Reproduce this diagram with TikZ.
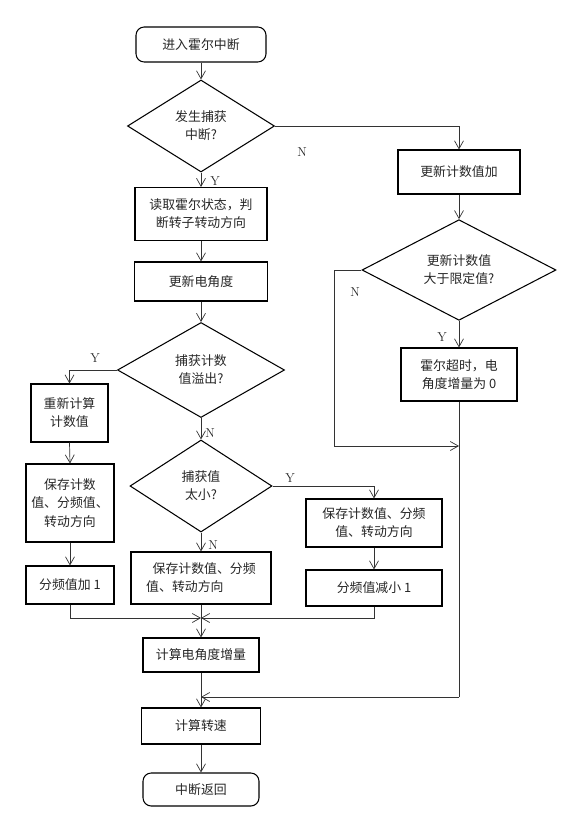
\documentclass[tikz,border=0pt]{standalone}
\usepackage{fontspec}
\usepackage{tikz}
\usetikzlibrary{arrows.meta,shapes.geometric}
\newfontfamily\cjk{Noto Sans CJK SC}

\begin{document}
\begin{tikzpicture}[x=0.03cm,y=-0.03cm,
	every node/.style={font=\cjk\fontsize{11pt}{15.5pt}\selectfont,text=black!85},
	proc/.style={draw,line width=0.9pt,rectangle,align=center,inner sep=2pt},
	term/.style={proc,rounded corners=7pt},
	cond/.style={draw,line width=0.9pt,diamond,align=center,inner sep=0pt},
	lbl/.style={font=\rmfamily\fontsize{11pt}{13pt}\selectfont},
	line/.style={line width=0.6pt,black!80},
	arr/.style={line,-{Straight Barb[length=2.4mm,width=2.7mm]}}]
			\useasboundingbox (0,0) rectangle (583,816);
			% 主流程
			\node[term,minimum width=3.9cm,minimum height=1.05cm] (start) at (201,44.5) {进入霍尔中断};
			\node[cond,minimum width=4.41cm,minimum height=2.76cm] (d1) at (201,126) {发生捕获\\中断?};
			\node[proc,minimum width=3.96cm,minimum height=1.59cm] (read) at (201,214) {读取霍尔状态，判\\断转子转动方向};
			\node[proc,minimum width=3.99cm,minimum height=1.17cm] (upd) at (201,281.5) {更新电角度};
			\node[cond,minimum width=5.01cm,minimum height=2.85cm] (d3) at (201,370) {捕获计数\\值溢出?};
			\node[cond,minimum width=4.26cm,minimum height=2.76cm] (d4) at (201,486) {捕获值\\太小?};
			\node[proc,minimum width=4.2cm,minimum height=1.56cm,align=left] (save2) at (201,578) {\hspace*{0.5em}保存计数值、分频\\值、转动方向};
			\node[proc,minimum width=3.48cm,minimum height=1.02cm] (calc1) at (201,655) {计算电角度增量};
			\node[proc,minimum width=3.57cm,minimum height=1.08cm] (speed) at (201,726) {计算转速};
			\node[term,minimum width=3.48cm,minimum height=0.99cm] (ret) at (201,789.5) {中断返回};
			% 左分支
			\node[proc,minimum width=2.31cm,minimum height=1.74cm] (recalc) at (69.5,413) {重新计算\\计数值};
			\node[proc,minimum width=2.64cm,minimum height=2.34cm] (save1) at (70,503) {保存计数\\值、分频值、\\转动方向};
			\node[proc,minimum width=2.64cm,minimum height=1.14cm] (plus1) at (70,585) {分频值加 1};
			% 右分支
			\node[proc,minimum width=4.08cm,minimum height=1.44cm] (save3) at (374,523) {保存计数值、分频\\值、转动方向};
			\node[proc,minimum width=4.08cm,minimum height=1.08cm] (minus1) at (374,588) {分频值减小 1};
			\node[proc,minimum width=3.66cm,minimum height=1.32cm] (inc) at (459,172) {更新计数值加};
			\node[cond,minimum width=5.82cm,minimum height=2.88cm] (d2) at (459,270) {更新计数值\\大于限定值?};
			\node[proc,minimum width=3.48cm,minimum height=1.59cm] (tout) at (459,374.5) {霍尔超时，电\\角度增量为 0};
			% 连线
			\foreach \a/\b in {start/d1,d1/read,read/upd,upd/d3,d3/d4,d4/save2,calc1/speed,speed/ret,
				recalc/save1,save1/plus1,save3/minus1,inc/d2,d2/tout}
			\draw[arr] (\a.south) -- (\b.north);
			\draw[arr] (d1.east) -| (inc.north);
			\draw[arr] (d3.west) -| (recalc.north);
			\draw[arr] (d4.east) -| (save3.north);
			\coordinate (m1) at (201,618);
			\draw[arr] (plus1.south) |- (m1);
			\draw[arr] (minus1.south) |- (m1);
			\draw[line] (save2.south) -- (m1);
			\draw[arr] (m1) -- (calc1.north);
			\coordinate (j1) at (459,446);
			\coordinate (j2) at (459,697);
			\coordinate (j3) at (201,697);
			\draw[arr] (d2.west) -- ++(-27,0) |- (j1);
			\draw[line] (tout.south) -- (j2);
			\draw[arr] (j2) -- (j3);
			% 标注
			\foreach \t/\x/\y in {Y/215/181,N/302/152,N/355/292,Y/442/337,Y/95/358,N/210/433,Y/290/478,N/213/545}
			\node[lbl] (l\x) at (\x,\y) {\t};
		\end{tikzpicture}
\end{document}
